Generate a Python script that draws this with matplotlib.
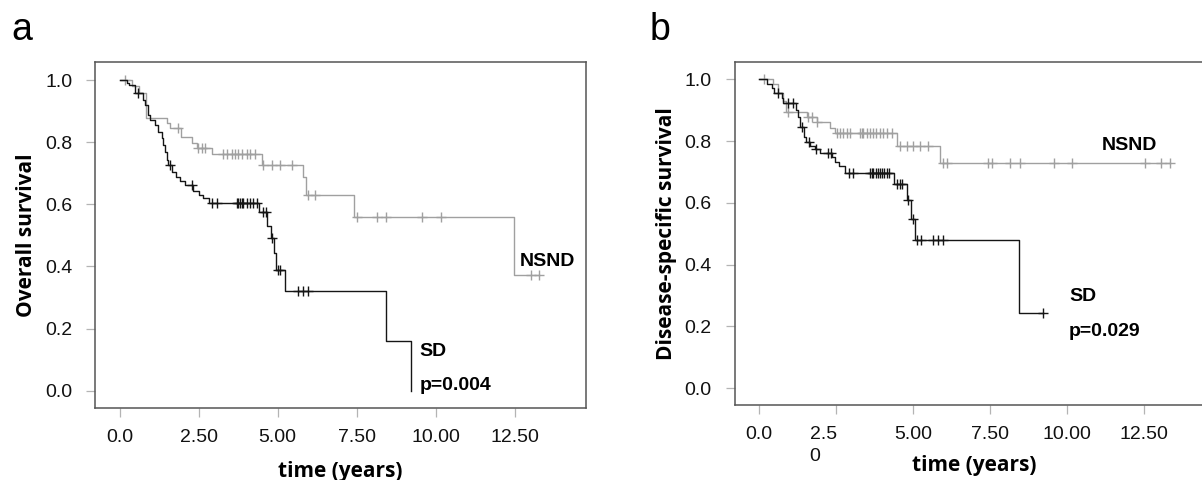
import numpy as np
import matplotlib
matplotlib.use("Agg")
import matplotlib.pyplot as plt
from matplotlib.transforms import ScaledTranslation

# ---- data (years, survival) ----
# panel a: overall survival
os_sd_times = [0.22, 0.30, 0.48, 0.75, 0.80, 0.91, 0.96, 1.12, 1.22, 1.33, 1.38, 1.43,
               1.49, 1.54, 1.65, 1.78, 1.91, 2.07, 2.33, 2.52, 2.63, 2.84,
               4.42, 4.65, 4.78, 4.88, 4.95, 5.23, 8.43, 9.22]
os_sd_surv = [0.991, 0.984, 0.957, 0.936, 0.920, 0.887, 0.871, 0.855, 0.834, 0.812, 0.791, 0.769,
              0.743, 0.726, 0.705, 0.689, 0.676, 0.662, 0.644, 0.630, 0.619, 0.603,
              0.576, 0.530, 0.490, 0.442, 0.388, 0.322, 0.160, 0.0]
os_sd_cens = [0.59, 1.60, 2.30, 2.91, 3.07, 3.70, 3.75, 3.81, 3.86, 3.91, 4.02, 4.12,
              4.23, 4.34, 4.53, 4.64, 4.83, 5.02, 5.07, 5.65, 5.81, 5.97]

os_nsnd_times = [0.40, 0.62, 0.82, 1.49, 1.59, 1.93, 2.28, 2.44, 2.91, 4.49, 5.81, 5.88, 7.41, 12.48]
os_nsnd_surv = [0.980, 0.957, 0.877, 0.861, 0.845, 0.816, 0.796, 0.780, 0.762, 0.726, 0.689, 0.630, 0.560, 0.372]
os_nsnd_cens = [0.16, 1.85, 2.49, 2.60, 2.70, 3.27, 3.38, 3.54, 3.65, 3.75, 3.86, 4.02, 4.12, 4.28,
                4.54, 4.81, 5.07, 5.44, 5.97, 6.18, 7.50, 8.13, 8.43, 9.56, 10.16, 13.00, 13.28]

# panel b: disease-specific survival
dss_sd_times = [0.28, 0.42, 0.50, 0.75, 0.80, 1.21, 1.28, 1.34, 1.47, 1.53, 1.66, 1.83, 1.99,
                2.37, 2.47, 2.61, 2.80, 4.39, 4.80, 4.93, 5.07, 8.45]
dss_sd_surv = [0.985, 0.971, 0.955, 0.938, 0.922, 0.901, 0.879, 0.847, 0.814, 0.798, 0.784, 0.773, 0.760,
               0.749, 0.733, 0.719, 0.696, 0.661, 0.609, 0.546, 0.479, 0.242]
dss_sd_cens = [0.62, 0.96, 1.10, 1.42, 1.64, 1.87, 2.24, 2.35, 2.93, 3.07, 3.61, 3.66, 3.72, 3.80,
               3.88, 3.93, 3.99, 4.06, 4.15, 4.24, 4.47, 4.58, 4.64, 4.85, 5.00, 5.12, 5.28,
               5.66, 5.82, 5.99, 9.21]

dss_nsnd_times = [0.45, 0.62, 0.80, 0.88, 1.56, 1.88, 2.31, 2.47, 4.49, 5.88]
dss_nsnd_surv = [0.985, 0.955, 0.930, 0.895, 0.879, 0.863, 0.841, 0.825, 0.784, 0.729]
dss_nsnd_cens = [0.17, 0.96, 1.61, 1.72, 1.88, 2.53, 2.64, 2.74, 2.85, 2.96, 3.29, 3.34, 3.39,
                 3.50, 3.61, 3.72, 3.82, 3.93, 4.04, 4.15, 4.31, 4.58, 4.80, 5.01, 5.23, 5.50,
                 5.99, 6.10, 7.45, 7.56, 8.15, 8.47, 9.58, 10.17, 12.52, 13.04, 13.34]

xticks = [0.0, 2.5, 5.0, 7.5, 10.0, 12.5]
xtick_labels_a = ["0.0", "2.50", "5.00", "7.50", "10.00", "12.50"]
xtick_labels_b = ["0.0", "2.5\n0", "5.00", "7.50", "10.00", "12.50"]
yticks = [0.0, 0.2, 0.4, 0.6, 0.8, 1.0]

SANS = ["Liberation Sans", "DejaVu Sans"]
LABEL = ["Open Sans", "DejaVu Sans"]
plt.rcParams['font.family'] = SANS

BLACK = "#151515"
GRAY = "#a0a0a0"


def km(ax, times, surv, cens, color):
    t = np.asarray(times)
    s = np.asarray(surv)
    end = max(t.max(), max(cens))
    x = np.concatenate([[0.0], t, [end]])
    y = np.concatenate([[1.0], s, [s[-1]]])
    ax.step(x, y, where="post", color=color, lw=1.0)
    lev = np.concatenate([[1.0], s])
    cy = lev[np.searchsorted(t, cens, side="right")]
    ax.plot(cens, cy, ls="none", marker="+", ms=7, mew=1.0, color=color)


def style(ax, xlim, ylim, labels):
    ax.set_xlim(*xlim)
    ax.set_ylim(*ylim)
    ax.set_xticks(xticks)
    ax.set_xticklabels(labels)
    ax.set_yticks(yticks)
    ax.set_yticklabels(["%.1f" % v for v in yticks])
    ax.tick_params(direction="out", length=6.5, width=0.9, color="#b4b4b4",
                   labelsize=14, labelcolor="#111111")
    ax.tick_params(axis="y", pad=10)
    ax.tick_params(axis="x", pad=8.5)
    for sp in ax.spines.values():
        sp.set_color("#555555")
        sp.set_linewidth(1.1)


fig = plt.figure(figsize=(12.02, 4.8), dpi=100)

# panel a
ax1 = fig.add_axes([0.0793, 0.15, 0.408, 0.7202])
km(ax1, os_nsnd_times, os_nsnd_surv, os_nsnd_cens, GRAY)
km(ax1, os_sd_times, os_sd_surv, os_sd_cens, BLACK)
style(ax1, (-0.772, 14.747), (-0.0557, 1.057), xtick_labels_a)
ax1.text(12.65, 0.401, "NSND", fontsize=14, fontweight="bold", va="baseline")
ax1.text(9.47, 0.112, "SD", fontsize=14, fontweight="bold", va="baseline")
ax1.text(9.50, 0.002, "p=0.004", fontsize=14, fontweight="bold", va="baseline")

# panel b
ax2 = fig.add_axes([0.6112, 0.1556, 0.3984, 0.7146])
km(ax2, dss_nsnd_times, dss_nsnd_surv, dss_nsnd_cens, GRAY)
km(ax2, dss_sd_times, dss_sd_surv, dss_sd_cens, BLACK)
style(ax2, (-0.778, 14.75), (-0.056, 1.055), xtick_labels_b)
lbl = ax2.get_xticklabels()[1]
lbl.set_multialignment("left")
lbl.set_linespacing(1.35)
lbl.set_transform(lbl.get_transform() + ScaledTranslation(-12.5 / 100, 0, fig.dpi_scale_trans))
ax2.text(11.14, 0.771, "NSND", fontsize=14, fontweight="bold", va="baseline")
ax2.text(10.06, 0.282, "SD", fontsize=14, fontweight="bold", va="baseline")
ax2.text(10.06, 0.168, "p=0.029", fontsize=14, fontweight="bold", va="baseline")

# axis titles
fig.text(27 / 1202, 1 - 235 / 480, "Overall survival", rotation=90, ha="center", va="center",
         fontsize=15, fontweight="bold", family=LABEL)
fig.text(667 / 1202, 1 - 234 / 480, "Disease-specific survival", rotation=90, ha="center",
         va="center", fontsize=15, fontweight="bold", family=LABEL)
fig.text(340.5 / 1202, 1 - 471 / 480, "time (years)", ha="center", va="center",
         fontsize=15, fontweight="bold", family=LABEL)
fig.text(974 / 1202, 1 - 465 / 480, "time (years)", ha="center", va="center",
         fontsize=15, fontweight="bold", family=LABEL)

# panel letters
fig.text(11 / 1202, 1 - 40 / 480, "a", fontsize=27, va="baseline", ha="left")
fig.text(650 / 1202, 1 - 40 / 480, "b", fontsize=27, va="baseline", ha="left")

fig.savefig("out.png", dpi=100)
